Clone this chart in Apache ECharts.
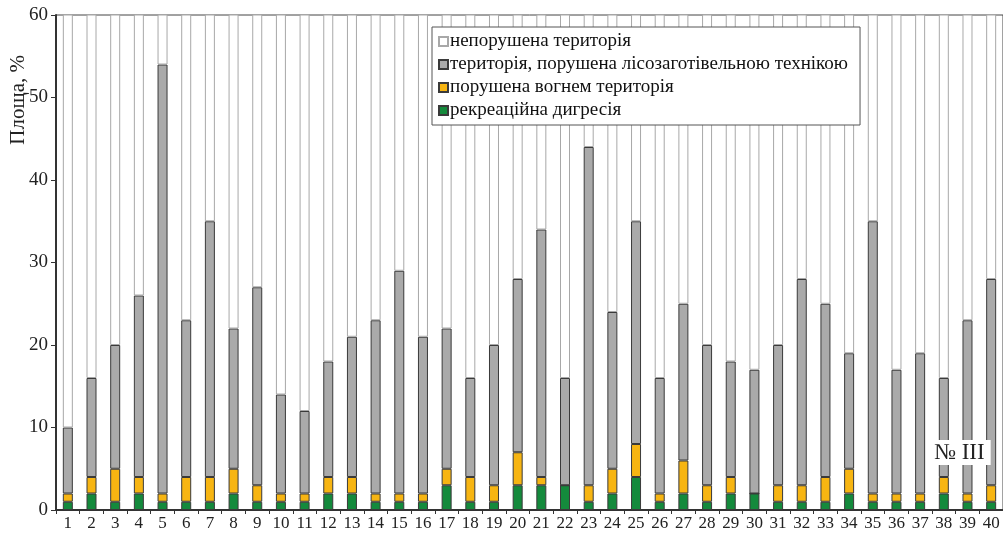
<!DOCTYPE html>
<html>
<head>
<meta charset="utf-8">
<script src="https://cdn.jsdelivr.net/npm/echarts@6/dist/echarts.min.js"></script>
<style>
  html, body { margin: 0; padding: 0; background: #fff; }
  #chart { width: 1003px; height: 533px; }
</style>
</head>
<body>
<div id="chart"></div>
<script>
// ділянки 1..40
var plots = [];
for (var i = 1; i <= 40; i++) plots.push(String(i));

// рекреаційна дигресія, %
var recreation = [1,2,1,2,1,1,1,2,1,1, 1,2,2,1,1,1,3,1,1,3, 3,3,1,2,4,1,2,1,2,2, 1,1,1,2,1,1,1,2,1,1];
// порушена вогнем територія, %
var fire = [1,2,4,2,1,3,3,3,2,1, 1,2,2,1,1,1,2,3,2,4, 1,0,2,3,4,1,4,2,2,0, 2,2,3,3,1,1,1,2,1,2];
// територія, порушена лісозаготівельною технікою, %
var logging = [8,12,15,22,52,19,31,17,24,12, 10,14,17,21,27,19,17,12,17,21, 30,13,41,19,27,14,19,17,14,15, 17,25,21,14,33,15,17,12,21,25];

// непорушена територія = решта до 100 %
var intact = [];
for (var k = 0; k < plots.length; k++) {
    intact.push(100 - recreation[k] - fire[k] - logging[k]);
}

var serif = '"Liberation Serif", "DejaVu Serif", serif';
var chart = echarts.init(document.getElementById('chart'));

var option = {
    animation: false,
    textStyle: { fontFamily: serif },
    grid: {
        left: 56, top: 15, width: 952, bottom: 23,
        show: true, borderColor: '#444', borderWidth: 1, backgroundColor: 'transparent'
    },
    legend: {
        orient: 'vertical',
        left: 432, top: 27,
        padding: [5, 12, 5, 6],
        itemGap: 4,
        itemWidth: 9, itemHeight: 9,
        icon: 'rect',
        backgroundColor: '#fff',
        borderColor: '#555', borderWidth: 1,
        textStyle: { fontFamily: serif, fontSize: 19, color: '#111', padding: [0, 0, 0, -3] },
        data: ['непорушена територія', 'територія, порушена лісозаготівельною технікою', 'порушена вогнем територія', 'рекреаційна дигресія']
    },
    xAxis: {
        type: 'category',
        data: plots,
        axisLine: { lineStyle: { color: '#333', width: 2 } },
        axisTick: { show: true, length: 4, lineStyle: { color: '#333' } },
        axisLabel: { color: '#222', fontSize: 17, fontFamily: serif, margin: 5, interval: 0 },
        splitLine: { show: false }
    },
    yAxis: {
        type: 'value',
        min: 0, max: 60, interval: 10,
        axisLine: { show: true, lineStyle: { color: '#333', width: 2 } },
        axisTick: { show: true, length: 5, lineStyle: { color: '#333' } },
        axisLabel: { color: '#222', fontSize: 19, fontFamily: serif, margin: 8 },
        splitLine: { show: false }
    },
    graphic: [
        {
            type: 'text', left: 8, top: 55, rotation: Math.PI / 2, z: 100,
            style: { text: 'Площа, %', font: '21px ' + serif, fill: '#222' }
        },
        {
            type: 'text', left: 928, top: 440, z: 100,
            style: { text: '№ ІІІ', font: '23px ' + serif, fill: '#222', backgroundColor: '#fff', padding: [1, 6] }
        }
    ],
    series: [
        {
            name: 'рекреаційна дигресія', type: 'bar', stack: 'a', barWidth: 10,
            data: recreation,
            itemStyle: { color: '#148a3c', borderColor: '#3a3a3a', borderWidth: 1 }
        },
        {
            name: 'порушена вогнем територія', type: 'bar', stack: 'a', barWidth: 10,
            data: fire,
            itemStyle: { color: '#f7b512', borderColor: '#3a3a3a', borderWidth: 1 }
        },
        {
            name: 'територія, порушена лісозаготівельною технікою', type: 'bar', stack: 'a', barWidth: 10,
            data: logging,
            itemStyle: { color: '#aaaaaa', borderColor: '#3a3a3a', borderWidth: 1 }
        },
        {
            name: 'непорушена територія', type: 'bar', stack: 'a', barWidth: 10,
            data: intact,
            itemStyle: { color: '#ffffff', borderColor: '#a8a8a8', borderWidth: 1 }
        }
    ]
};
chart.setOption(option);
</script>
</body>
</html>
